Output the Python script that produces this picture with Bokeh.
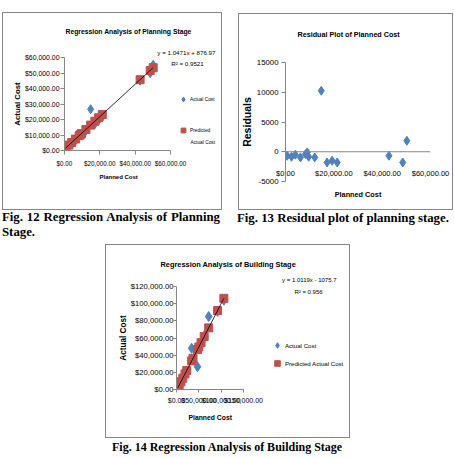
from bokeh.plotting import figure
from bokeh.models import (Range1d, FixedTicker, NumeralTickFormatter, Label,
                          Legend, LegendItem, Div, Title, Span)
from bokeh.layouts import row, column
from bokeh.embed import file_html
from bokeh.resources import INLINE

# ---- Planning stage -------------------------------------------------------
planning_planned = [700, 2500, 4100, 6200, 8300, 9000, 9600, 12100, 14800,
                    17200, 19300, 21400, 42800, 48500, 50200]
planning_actual = [940, 2655, 4670, 6419, 9168, 10191, 10089, 12597, 26624,
                   17087, 19586, 21485, 45023, 49861, 55291]
planning_predicted = [1610, 3495, 5170, 7369, 9568, 10301, 10929, 13547, 16374,
                      18887, 21086, 23285, 45693, 51661, 53441]
planning_residual = [-670, -840, -500, -950, -400, -110, -840, -950, 10250,
                     -1800, -1500, -1800, -670, -1800, 1850]
planning_slope = 1.0471
planning_intercept = 876.97
planning_r2 = 0.9521

# ---- Building stage -------------------------------------------------------
building_planned = [3000, 6000, 10000, 14000, 19000, 23000, 34000, 37000,
                    47000, 50000, 55000, 62000, 72000, 92000, 106000]
building_actual = [2500, 4200, 9800, 12500, 18900, 21500, 48000, 35500,
                   26500, 50800, 53500, 62500, 85000, 91000, 104000]
building_predicted = [1960, 5000, 9043, 13091, 18150, 22198, 33329, 36365,
                      46484, 49519, 54579, 61662, 71781, 92019, 106186]
building_slope = 1.0119
building_intercept = -1075.7
building_r2 = 0.956

# ---- Axis ticks -----------------------------------------------------------
planning_x_ticks = [0, 20000, 40000, 60000]
planning_y_ticks = [0, 10000, 20000, 30000, 40000, 50000, 60000]
residual_x_ticks = [0, 20000, 40000, 60000]
residual_y_ticks = [-5000, 0, 5000, 10000, 15000]
building_x_ticks = [0, 50000, 100000, 150000]
building_y_ticks = [0, 20000, 40000, 60000, 80000, 100000, 120000]

BLUE = "#4F81BD"
RED = "#C0504D"
AXIS = "#868686"
SANS = "Liberation Sans"
SERIF = "Liberation Serif"


class Chart:
    """A bordered chart.  `axes_px` gives the canvas pixels (left, right, top,
    bottom) where the axis extents `x_span` / `y_span` are drawn; the plotting
    frame may run further right (to `frame_right`) to hold the key and the
    regression text, with the x axis bounded to its own span."""

    def __init__(self, width, height, axes_px, x_span, y_span, frame_right):
        left, right, top, bottom = axes_px
        self.axes_px = axes_px
        self.x_span = x_span
        self.y_span = y_span
        x_end = x_span[0] + (frame_right - left) / (right - left) * (x_span[1] - x_span[0])
        self.p = figure(width=width, height=height,
                        x_range=Range1d(x_span[0], x_end),
                        y_range=Range1d(*y_span),
                        output_backend="svg", toolbar_location=None, title=None,
                        min_border_left=left,
                        min_border_right=width - frame_right,
                        min_border_top=top, min_border_bottom=height - bottom,
                        background_fill_color="white",
                        border_fill_color="white", outline_line_color=None,
                        styles={"outline": f"1px solid {AXIS}"})
        self.p.xgrid.visible = False
        self.p.ygrid.visible = False
        self.p.xaxis.bounds = x_span

    def to_data(self, fx, fy):
        # canvas pixels (from the top-left) -> data coordinates
        left, right, top, bottom = self.axes_px
        x = self.x_span[0] + (fx - left) / (right - left) * (self.x_span[1] - self.x_span[0])
        y = self.y_span[0] + (bottom - fy) / (bottom - top) * (self.y_span[1] - self.y_span[0])
        return x, y

    def to_screen(self, fx, fy):
        # canvas pixels -> frame-relative screen offsets (y measured upwards)
        left, right, top, bottom = self.axes_px
        return fx - left, bottom - fy

    def text(self, fx, fy, s, size, bold=False, align="center"):
        x, y = self.to_data(fx, fy)
        self.p.add_layout(Label(x=x, y=y, text=s, text_font=SANS,
                                text_font_size=f"{size}px",
                                text_font_style="bold" if bold else "normal",
                                text_align=align, text_baseline="middle",
                                text_color="black"))

    def heading(self, s, size, align, offset, standoff, side="above",
                bold=True):
        self.p.add_layout(Title(text=s, align=align, offset=offset,
                                standoff=standoff, vertical_align="middle",
                                text_font=SANS, text_font_size=f"{size}px",
                                text_font_style="bold" if bold else "normal",
                                text_color="black"), side)

    def key(self, items, fx_left, fy_bottom, glyph, spacing, size):
        sx, sy = self.to_screen(fx_left, fy_bottom)
        self.p.add_layout(Legend(
            items=[LegendItem(label=lab, renderers=[r]) for lab, r in items],
            location=(sx, sy), orientation="vertical",
            border_line_color=None, background_fill_alpha=0, padding=0,
            margin=0, spacing=spacing, glyph_width=glyph, glyph_height=glyph,
            label_standoff=1, label_height=glyph, label_width=10,
            label_text_font=SANS, label_text_font_size=f"{size}px",
            label_text_color="black"))


def style_axis(ax, ticks, fmt, tick_size, tick_out, standoff,
               title=None, title_size=9, title_standoff=0):
    ax.ticker = FixedTicker(ticks=ticks)
    ax.formatter = NumeralTickFormatter(format=fmt)
    ax.axis_line_color = AXIS
    ax.major_tick_line_color = AXIS
    ax.major_tick_in = 0
    ax.major_tick_out = tick_out
    ax.minor_tick_line_color = None
    ax.major_label_text_font = SANS
    ax.major_label_text_font_size = f"{tick_size}px"
    ax.major_label_text_color = "black"
    ax.major_label_standoff = standoff
    if title:
        ax.axis_label = title
        ax.axis_label_text_font = SANS
        ax.axis_label_text_font_size = f"{title_size}px"
        ax.axis_label_text_font_style = "bold"
        ax.axis_label_text_color = "black"
        ax.axis_label_standoff = title_standoff


def equation(slope, intercept):
    sign = "+" if intercept >= 0 else "-"
    return f"y = {slope:g}x {sign} {abs(intercept):g}"


# ---- Fig. 12: regression of the planning stage ------------------------------
c1 = Chart(218, 196, (61, 167, 44, 137), (0, 60000), (0, 60000), 217)
p1 = c1.p
style_axis(p1.xaxis[0], planning_x_ticks, "$0,0.00", 6.3, 4, 5)
style_axis(p1.yaxis[0], planning_y_ticks, "$0,0.00", 6.9, 4, 1,
           "Actual Cost", 7.8, 0)
r_act1 = p1.scatter(planning_planned, planning_actual, marker="diamond",
                    size=9, fill_color=BLUE, line_color=BLUE)
r_pred1 = p1.scatter(planning_planned, planning_predicted, marker="square",
                     size=8, fill_color=RED, line_color=RED)
tx1 = [min(planning_planned), max(planning_planned)]
p1.line(tx1, [planning_slope * x + planning_intercept for x in tx1],
        line_color="black", line_width=0.8)
c1.heading(equation(planning_slope, planning_intercept), 6.2, "right", 5, 1,
           bold=False)
c1.heading("Regression Analysis of Planning Stage", 6.8, "left", 1, 23)
c1.heading("Planned Cost", 6, "left", 35, 7, side="below")
c1.text(184, 50, f"R² = {planning_r2:g}", 6.2)
c1.key([("Actual Cost", r_act1), ("Predicted", r_pred1)], 174, 123, 12, 19, 4.8)
c1.text(187, 129, "Actual Cost", 4.8, align="left")

# ---- Fig. 13: residuals of the planning stage -------------------------------
c2 = Chart(213, 195, (45, 191, 48, 167), (0, 60000), (-5000, 15000), 191)
p2 = c2.p
style_axis(p2.xaxis[0], residual_x_ticks, "$0,0.00", 7.5, 0, -13,
           "Planned Cost", 7.3, 9)
p2.xaxis[0].axis_line_color = None
p2.xaxis[0].major_tick_line_color = None
style_axis(p2.yaxis[0], residual_y_ticks, "0", 7.8, 4, 3)
p2.add_layout(Span(location=0, dimension="width", line_color=AXIS,
                   line_width=1))
p2.scatter(planning_planned, planning_residual, marker="diamond", size=9,
           fill_color=BLUE, line_color=BLUE)
c2.heading(" ", 7, "left", 0, 14)
c2.heading("Residual Plot of Planned Cost", 7.2, "left", 12, 0)
c2.heading("Residuals", 10.5, "center", 0, 0, side="left")

# ---- Fig. 14: regression of the building stage ------------------------------
c3 = Chart(243, 192, (70, 137, 41, 144), (0, 150000), (0, 120000), 242)
p3 = c3.p
style_axis(p3.xaxis[0], building_x_ticks, "$0,0.00", 7, 3, 4)
style_axis(p3.yaxis[0], building_y_ticks, "$0,0.00", 7.7, 3, 0,
           "Actual Cost", 8.2, 0)
r_act3 = p3.scatter(building_planned, building_actual, marker="diamond",
                    size=10, fill_color=BLUE, line_color=BLUE)
r_pred3 = p3.scatter(building_planned, building_predicted, marker="square",
                     size=8, fill_color=RED, line_color=RED)
tx3 = [min(building_planned), max(building_planned)]
p3.line(tx3, [building_slope * x + building_intercept for x in tx3],
        line_color="black", line_width=0.8)
c3.heading(equation(building_slope, building_intercept), 6, "right", 12, 5,
           bold=False)
c3.heading("Regression Analysis of Building Stage", 7.4, "left", -16, 8)
c3.heading("Planned Cost", 6.8, "left", 12, 12, side="below")
c3.text(202, 46, f"R² = {building_r2:g}", 6)
c3.key([("Actual Cost", r_act3), ("Predicted Actual Cost", r_pred3)],
       164, 125, 14, 4, 6.1)

# ---- Captions ---------------------------------------------------------------
cap = f"font-family:'{SERIF}';font-weight:bold;color:black;"
div1 = Div(text=f'<div style="{cap}font-size:12.8px;line-height:14.5px;'
                f'text-align:justify;">Fig. 12 Regression Analysis of '
                f'Planning Stage.</div>',
           width=218, height=29, margin=(1, 0, 0, 2))
div2 = Div(text=f'<div style="{cap}font-size:12.8px;line-height:14.5px;'
                f'white-space:nowrap;">Fig. 13 Residual plot of planning '
                f'stage.</div>',
           width=215, height=29, margin=(1, 0, 0, 17))
div3 = Div(text=f'<div style="{cap}font-size:12px;line-height:14px;'
                f'white-space:nowrap;">Fig. 14 Regression Analysis of '
                f'Building Stage</div>',
           width=240, height=16, margin=(2, 0, 0, 112))

p1.margin = (13, 0, 0, 3)
p2.margin = (14, 0, 0, 18)
p3.margin = (6, 0, 0, 106)

# each chart sits in its own column so that the two frames are laid out
# independently of each other
page = column(row(column(p1), column(p2)), row(div1, div2), p3, div3)

open("out.html", "w").write(file_html(page, INLINE))
